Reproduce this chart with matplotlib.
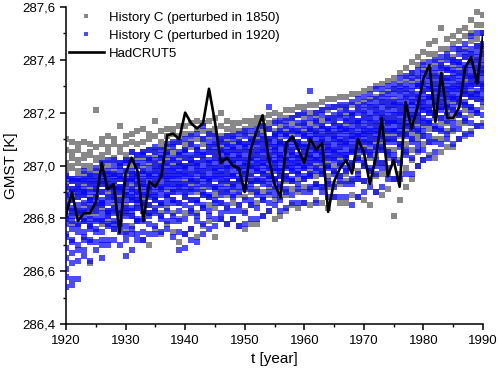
import matplotlib
matplotlib.use("Agg")
import matplotlib.pyplot as plt
from matplotlib.ticker import MultipleLocator, FuncFormatter

plt.rcParams['font.family'] = ['Liberation Sans', 'DejaVu Sans']

years = list(range(1920, 1991))

hadcrut5 = [286.81, 286.90, 286.79, 286.82, 286.82, 286.86, 287.01, 286.91, 286.93, 286.745,
            286.97, 287.03, 286.98, 286.79, 286.94, 286.92, 286.96, 287.115, 287.12, 287.10,
            287.20, 287.16, 287.14, 287.16, 287.29, 287.165, 287.01, 287.03, 287.00, 286.99,
            286.90, 287.06, 287.13, 287.19, 287.03, 286.93, 286.88, 287.085, 287.11, 287.06,
            287.01, 287.10, 287.06, 287.085, 286.825, 286.94, 286.99, 287.02, 286.97, 287.10,
            287.05, 286.93, 287.03, 287.18, 286.96, 287.02, 286.92, 287.24, 287.14, 287.22,
            287.33, 287.38, 287.165, 287.35, 287.18, 287.18, 287.22, 287.37, 287.41, 287.31,
            287.49]

# History C (perturbed in 1920): ensemble values per year
blue_members = [
    [286.54, 286.58, 286.61, 286.65, 286.69, 286.73, 286.74, 286.78, 286.80, 286.81, 286.85, 286.88, 286.89, 286.92, 286.95, 286.96],
    [286.55, 286.57, 286.63, 286.67, 286.71, 286.72, 286.76, 286.79, 286.81, 286.83, 286.84, 286.87, 286.90, 286.91, 286.94, 286.95],
    [286.57, 286.64, 286.68, 286.70, 286.75, 286.77, 286.78, 286.82, 286.83, 286.85, 286.88, 286.90, 286.91, 286.92, 286.94, 286.95],
    [286.66, 286.68, 286.72, 286.73, 286.75, 286.79, 286.80, 286.82, 286.83, 286.86, 286.89, 286.90, 286.91, 286.94, 286.95, 286.98],
    [286.64, 286.71, 286.72, 286.76, 286.77, 286.78, 286.80, 286.83, 286.85, 286.87, 286.87, 286.90, 286.93, 286.94, 286.96, 286.97],
    [286.68, 286.71, 286.75, 286.76, 286.79, 286.80, 286.83, 286.85, 286.86, 286.88, 286.90, 286.91, 286.93, 286.94, 286.96, 286.99],
    [286.65, 286.70, 286.72, 286.75, 286.79, 286.80, 286.82, 286.85, 286.86, 286.87, 286.90, 286.93, 286.94, 286.96, 286.97, 287.01],
    [286.70, 286.72, 286.77, 286.78, 286.81, 286.82, 286.83, 286.86, 286.88, 286.91, 286.92, 286.93, 286.95, 286.97, 286.98, 287.02],
    [286.72, 286.76, 286.78, 286.79, 286.82, 286.84, 286.87, 286.88, 286.89, 286.91, 286.92, 286.94, 286.96, 286.97, 287.00, 287.02],
    [286.70, 286.75, 286.77, 286.80, 286.82, 286.83, 286.85, 286.87, 286.90, 286.91, 286.92, 286.95, 286.96, 286.98, 287.00, 287.01],
    [286.66, 286.72, 286.74, 286.77, 286.81, 286.83, 286.84, 286.87, 286.89, 286.90, 286.92, 286.94, 286.95, 286.98, 287.01, 287.02],
    [286.68, 286.74, 286.76, 286.81, 286.83, 286.84, 286.87, 286.88, 286.90, 286.91, 286.94, 286.95, 286.97, 286.98, 287.02, 287.05],
    [286.72, 286.74, 286.79, 286.80, 286.84, 286.86, 286.87, 286.89, 286.90, 286.93, 286.94, 286.96, 286.97, 287.00, 287.01, 287.04],
    [286.72, 286.75, 286.79, 286.83, 286.85, 286.86, 286.89, 286.90, 286.92, 286.93, 286.95, 286.97, 286.98, 287.01, 287.04, 287.05],
    [286.74, 286.78, 286.81, 286.82, 286.85, 286.88, 286.89, 286.91, 286.92, 286.94, 286.96, 286.97, 286.99, 287.02, 287.03, 287.06],
    [286.74, 286.77, 286.82, 286.84, 286.87, 286.88, 286.90, 286.92, 286.93, 286.95, 286.97, 286.98, 287.00, 287.02, 287.05, 287.07],
    [286.75, 286.80, 286.81, 286.85, 286.86, 286.89, 286.91, 286.92, 286.94, 286.96, 286.97, 286.99, 287.00, 287.03, 287.04, 287.06],
    [286.76, 286.79, 286.83, 286.86, 286.88, 286.89, 286.92, 286.93, 286.95, 286.96, 286.98, 287.00, 287.01, 287.04, 287.05, 287.08],
    [286.73, 286.79, 286.81, 286.86, 286.87, 286.90, 286.91, 286.93, 286.95, 286.96, 286.98, 286.99, 287.02, 287.03, 287.07, 287.09],
    [286.68, 286.75, 286.79, 286.83, 286.86, 286.90, 286.92, 286.93, 286.95, 286.97, 286.98, 287.00, 287.01, 287.04, 287.05, 287.09],
    [286.69, 286.74, 286.80, 286.85, 286.88, 286.90, 286.92, 286.93, 286.96, 286.97, 286.99, 287.00, 287.03, 287.05, 287.06, 287.10],
    [286.72, 286.76, 286.82, 286.84, 286.87, 286.90, 286.91, 286.94, 286.95, 286.97, 286.99, 287.01, 287.02, 287.04, 287.08, 287.11],
    [286.71, 286.79, 286.81, 286.86, 286.87, 286.91, 286.93, 286.94, 286.97, 286.98, 287.00, 287.01, 287.04, 287.06, 287.07, 287.12],
    [286.74, 286.78, 286.84, 286.85, 286.89, 286.90, 286.93, 286.95, 286.96, 286.98, 287.00, 287.02, 287.04, 287.05, 287.10, 287.15],
    [286.76, 286.81, 286.83, 286.88, 286.89, 286.92, 286.94, 286.95, 286.97, 286.99, 287.01, 287.02, 287.05, 287.07, 287.09, 287.12],
    [286.77, 286.80, 286.86, 286.87, 286.91, 286.92, 286.95, 286.96, 286.98, 286.99, 287.01, 287.03, 287.05, 287.07, 287.09, 287.11],
    [286.80, 286.82, 286.86, 286.89, 286.91, 286.93, 286.95, 286.97, 286.98, 287.00, 287.02, 287.03, 287.05, 287.06, 287.09, 287.10],
    [286.78, 286.83, 286.85, 286.90, 286.91, 286.94, 286.95, 286.97, 286.99, 287.00, 287.02, 287.04, 287.05, 287.07, 287.08, 287.11],
    [286.80, 286.83, 286.88, 286.89, 286.92, 286.93, 286.96, 286.97, 286.99, 287.01, 287.02, 287.04, 287.06, 287.07, 287.10, 287.11],
    [286.77, 286.83, 286.85, 286.90, 286.92, 286.94, 286.95, 286.98, 286.99, 287.01, 287.03, 287.04, 287.06, 287.08, 287.09, 287.12],
    [286.78, 286.82, 286.87, 286.91, 286.92, 286.95, 286.97, 286.98, 287.00, 287.01, 287.03, 287.05, 287.07, 287.08, 287.11, 287.13],
    [286.80, 286.85, 286.87, 286.91, 286.93, 286.94, 286.97, 286.99, 287.00, 287.02, 287.03, 287.05, 287.07, 287.09, 287.10, 287.13],
    [286.80, 286.84, 286.89, 286.90, 286.94, 286.95, 286.98, 286.99, 287.01, 287.02, 287.04, 287.06, 287.08, 287.09, 287.12, 287.14],
    [286.81, 286.87, 286.88, 286.93, 286.94, 286.97, 286.98, 287.00, 287.01, 287.03, 287.05, 287.06, 287.08, 287.10, 287.11, 287.15],
    [286.83, 286.86, 286.90, 286.93, 286.95, 286.96, 286.99, 287.00, 287.02, 287.03, 287.05, 287.07, 287.09, 287.10, 287.14, 287.22],
    [286.85, 286.89, 286.91, 286.94, 286.95, 286.98, 286.99, 287.01, 287.02, 287.04, 287.06, 287.07, 287.09, 287.11, 287.12, 287.16],
    [286.83, 286.87, 286.92, 286.93, 286.96, 286.98, 286.99, 287.01, 287.03, 287.04, 287.06, 287.08, 287.09, 287.12, 287.13, 287.17],
    [286.84, 286.90, 286.91, 286.95, 286.96, 286.99, 287.00, 287.02, 287.03, 287.05, 287.07, 287.08, 287.11, 287.12, 287.15, 287.17],
    [286.86, 286.89, 286.94, 286.95, 286.98, 286.99, 287.01, 287.02, 287.04, 287.05, 287.07, 287.09, 287.10, 287.13, 287.14, 287.18],
    [286.86, 286.91, 286.93, 286.97, 286.98, 287.00, 287.01, 287.03, 287.04, 287.07, 287.08, 287.09, 287.12, 287.13, 287.16, 287.19],
    [286.86, 286.90, 286.95, 286.96, 286.99, 287.00, 287.02, 287.03, 287.05, 287.07, 287.08, 287.11, 287.12, 287.15, 287.16, 287.20],
    [286.90, 286.92, 286.96, 286.97, 287.00, 287.01, 287.03, 287.04, 287.06, 287.07, 287.10, 287.11, 287.13, 287.14, 287.18, 287.28],
    [286.86, 286.92, 286.93, 286.98, 286.99, 287.02, 287.03, 287.05, 287.06, 287.08, 287.10, 287.12, 287.13, 287.16, 287.17, 287.20],
    [286.90, 286.92, 286.97, 286.98, 287.01, 287.02, 287.04, 287.05, 287.07, 287.09, 287.10, 287.12, 287.14, 287.15, 287.19, 287.21],
    [286.88, 286.93, 286.94, 286.99, 287.00, 287.03, 287.04, 287.06, 287.07, 287.09, 287.11, 287.13, 287.14, 287.17, 287.18, 287.22],
    [286.88, 286.92, 286.97, 286.98, 287.02, 287.03, 287.05, 287.06, 287.08, 287.10, 287.11, 287.13, 287.15, 287.17, 287.19, 287.22],
    [286.88, 286.94, 286.96, 287.00, 287.01, 287.04, 287.05, 287.07, 287.09, 287.10, 287.12, 287.14, 287.15, 287.18, 287.20, 287.23],
    [286.88, 286.93, 286.98, 286.99, 287.03, 287.04, 287.06, 287.08, 287.09, 287.11, 287.13, 287.14, 287.17, 287.18, 287.21, 287.23],
    [286.85, 286.93, 286.95, 287.00, 287.01, 287.05, 287.06, 287.08, 287.10, 287.11, 287.13, 287.15, 287.17, 287.19, 287.20, 287.24],
    [286.88, 286.95, 286.97, 287.02, 287.03, 287.06, 287.07, 287.09, 287.11, 287.12, 287.14, 287.16, 287.17, 287.20, 287.22, 287.25],
    [286.90, 286.94, 287.00, 287.01, 287.05, 287.06, 287.09, 287.10, 287.12, 287.13, 287.15, 287.17, 287.19, 287.21, 287.23, 287.26],
    [286.92, 286.98, 286.99, 287.04, 287.05, 287.08, 287.09, 287.11, 287.13, 287.14, 287.16, 287.18, 287.20, 287.22, 287.24, 287.27],
    [286.90, 286.97, 287.00, 287.02, 287.06, 287.07, 287.10, 287.12, 287.13, 287.15, 287.17, 287.19, 287.21, 287.23, 287.25, 287.29],
    [286.92, 286.99, 287.01, 287.06, 287.07, 287.10, 287.11, 287.13, 287.15, 287.17, 287.18, 287.20, 287.22, 287.24, 287.26, 287.29],
    [286.95, 286.99, 287.04, 287.05, 287.09, 287.10, 287.13, 287.14, 287.16, 287.17, 287.19, 287.21, 287.23, 287.25, 287.27, 287.30],
    [286.95, 287.02, 287.04, 287.09, 287.10, 287.13, 287.14, 287.16, 287.17, 287.19, 287.21, 287.23, 287.24, 287.27, 287.29, 287.31],
    [286.95, 287.01, 287.07, 287.08, 287.12, 287.13, 287.15, 287.17, 287.19, 287.20, 287.22, 287.24, 287.26, 287.28, 287.30, 287.33],
    [286.97, 287.04, 287.06, 287.11, 287.12, 287.15, 287.16, 287.18, 287.20, 287.22, 287.23, 287.25, 287.27, 287.29, 287.31, 287.34],
    [286.97, 287.03, 287.09, 287.10, 287.14, 287.15, 287.18, 287.19, 287.21, 287.23, 287.24, 287.26, 287.28, 287.30, 287.33, 287.35],
    [287.00, 287.06, 287.08, 287.13, 287.14, 287.17, 287.19, 287.20, 287.22, 287.24, 287.26, 287.27, 287.30, 287.31, 287.34, 287.36],
    [287.02, 287.06, 287.11, 287.13, 287.16, 287.18, 287.21, 287.22, 287.24, 287.25, 287.27, 287.29, 287.31, 287.33, 287.35, 287.38],
    [287.03, 287.09, 287.11, 287.16, 287.17, 287.20, 287.21, 287.23, 287.25, 287.26, 287.29, 287.30, 287.32, 287.34, 287.36, 287.39],
    [287.05, 287.09, 287.14, 287.15, 287.19, 287.20, 287.23, 287.24, 287.26, 287.28, 287.29, 287.31, 287.33, 287.35, 287.37, 287.40],
    [287.08, 287.13, 287.14, 287.18, 287.21, 287.22, 287.24, 287.26, 287.27, 287.29, 287.31, 287.33, 287.34, 287.37, 287.38, 287.41],
    [287.10, 287.12, 287.17, 287.19, 287.22, 287.23, 287.25, 287.27, 287.29, 287.30, 287.32, 287.33, 287.36, 287.37, 287.40, 287.42],
    [287.08, 287.14, 287.16, 287.21, 287.22, 287.25, 287.26, 287.28, 287.29, 287.31, 287.33, 287.35, 287.36, 287.39, 287.40, 287.44],
    [287.10, 287.14, 287.19, 287.20, 287.24, 287.25, 287.27, 287.29, 287.30, 287.32, 287.34, 287.35, 287.38, 287.39, 287.42, 287.44],
    [287.12, 287.17, 287.18, 287.23, 287.24, 287.27, 287.28, 287.30, 287.31, 287.34, 287.35, 287.37, 287.38, 287.41, 287.43, 287.46],
    [287.12, 287.16, 287.21, 287.22, 287.26, 287.27, 287.30, 287.31, 287.33, 287.34, 287.36, 287.38, 287.40, 287.42, 287.44, 287.49],
    [287.15, 287.20, 287.21, 287.25, 287.27, 287.28, 287.31, 287.32, 287.34, 287.35, 287.37, 287.39, 287.41, 287.43, 287.45, 287.50],
    [287.15, 287.19, 287.24, 287.26, 287.28, 287.30, 287.31, 287.33, 287.35, 287.36, 287.38, 287.40, 287.42, 287.44, 287.46, 287.50],
]

# History C (perturbed in 1850): ensemble values per year
gray_members = [
    [286.80, 286.85, 286.86, 286.90, 286.92, 286.93, 286.96, 286.98, 287.00, 287.01, 287.06, 287.10],
    [286.78, 286.82, 286.87, 286.88, 286.91, 286.94, 286.95, 286.99, 287.00, 287.03, 287.05, 287.09],
    [286.81, 286.83, 286.88, 286.89, 286.93, 286.94, 286.97, 286.98, 287.01, 287.02, 287.06, 287.08],
    [286.79, 286.84, 286.85, 286.89, 286.90, 286.93, 286.96, 286.97, 287.00, 287.03, 287.04, 287.09],
    [286.63, 286.81, 286.84, 286.88, 286.91, 286.92, 286.95, 286.99, 287.00, 287.04, 287.05, 287.08],
    [286.82, 286.84, 286.88, 286.91, 286.92, 286.95, 286.97, 286.98, 287.02, 287.03, 287.07, 287.21],
    [286.78, 286.84, 286.86, 286.90, 286.93, 286.94, 286.98, 286.99, 287.02, 287.04, 287.08, 287.10],
    [286.80, 286.83, 286.88, 286.89, 286.93, 286.95, 286.96, 287.00, 287.01, 287.05, 287.07, 287.11],
    [286.76, 286.83, 286.85, 286.90, 286.91, 286.94, 286.97, 286.98, 287.02, 287.03, 287.08, 287.10],
    [286.78, 286.82, 286.87, 286.89, 286.92, 286.95, 286.96, 287.00, 287.01, 287.05, 287.07, 287.15],
    [286.75, 286.82, 286.85, 286.89, 286.93, 286.94, 286.97, 286.98, 287.02, 287.04, 287.08, 287.11],
    [286.77, 286.81, 286.87, 286.88, 286.92, 286.95, 286.96, 287.00, 287.01, 287.05, 287.09, 287.12],
    [286.79, 286.84, 286.87, 286.91, 286.92, 286.96, 286.97, 287.00, 287.03, 287.04, 287.08, 287.13],
    [286.72, 286.80, 286.86, 286.88, 286.93, 286.94, 286.98, 286.99, 287.03, 287.05, 287.09, 287.14],
    [286.70, 286.82, 286.85, 286.90, 286.92, 286.96, 286.97, 287.01, 287.02, 287.06, 287.10, 287.12],
    [286.76, 286.83, 286.87, 286.89, 286.94, 286.95, 286.99, 287.01, 287.04, 287.06, 287.11, 287.17],
    [286.74, 286.82, 286.86, 286.91, 286.92, 286.96, 286.98, 287.01, 287.03, 287.07, 287.09, 287.13],
    [286.78, 286.84, 286.89, 286.90, 286.94, 286.97, 286.98, 287.02, 287.05, 287.07, 287.11, 287.14],
    [286.75, 286.82, 286.87, 286.90, 286.93, 286.97, 287.00, 287.01, 287.05, 287.08, 287.12, 287.14],
    [286.71, 286.80, 286.86, 286.91, 286.93, 286.96, 287.00, 287.02, 287.04, 287.09, 287.11, 287.15],
    [286.74, 286.82, 286.88, 286.90, 286.94, 286.98, 287.00, 287.03, 287.06, 287.08, 287.12, 287.15],
    [286.76, 286.83, 286.87, 286.92, 286.94, 286.97, 287.01, 287.03, 287.07, 287.09, 287.12, 287.16],
    [286.73, 286.82, 286.87, 286.90, 286.95, 286.99, 287.01, 287.04, 287.06, 287.10, 287.14, 287.17],
    [286.77, 286.84, 286.89, 286.92, 286.96, 286.98, 287.02, 287.04, 287.08, 287.10, 287.13, 287.16],
    [286.79, 286.85, 286.88, 286.93, 286.95, 286.99, 287.01, 287.05, 287.07, 287.11, 287.13, 287.17],
    [286.73, 286.84, 286.89, 286.92, 286.97, 286.99, 287.03, 287.05, 287.08, 287.12, 287.14, 287.18],
    [286.80, 286.86, 286.90, 286.94, 286.96, 287.00, 287.02, 287.06, 287.08, 287.11, 287.15, 287.20],
    [286.78, 286.84, 286.89, 286.93, 286.97, 286.99, 287.03, 287.05, 287.09, 287.11, 287.14, 287.17],
    [286.80, 286.86, 286.91, 286.93, 286.96, 287.00, 287.02, 287.06, 287.08, 287.12, 287.14, 287.16],
    [286.77, 286.85, 286.89, 286.94, 286.96, 286.99, 287.03, 287.05, 287.09, 287.10, 287.13, 287.16],
    [286.76, 286.83, 286.88, 286.92, 286.97, 287.00, 287.02, 287.06, 287.08, 287.12, 287.14, 287.17],
    [286.78, 286.85, 286.90, 286.94, 286.96, 287.00, 287.03, 287.05, 287.09, 287.11, 287.15, 287.17],
    [286.78, 286.86, 286.91, 286.94, 286.98, 287.00, 287.04, 287.06, 287.10, 287.12, 287.16, 287.18],
    [286.81, 286.87, 286.90, 286.95, 286.97, 287.01, 287.03, 287.07, 287.09, 287.13, 287.15, 287.18],
    [286.83, 286.89, 286.92, 286.96, 286.98, 287.02, 287.04, 287.08, 287.10, 287.14, 287.16, 287.19],
    [286.80, 286.87, 286.92, 286.95, 286.99, 287.01, 287.05, 287.07, 287.11, 287.13, 287.17, 287.20],
    [286.81, 286.88, 286.91, 286.96, 286.98, 287.02, 287.04, 287.08, 287.10, 287.14, 287.16, 287.19],
    [286.83, 286.89, 286.94, 286.96, 287.00, 287.02, 287.06, 287.08, 287.12, 287.14, 287.18, 287.21],
    [286.85, 286.91, 286.94, 286.98, 287.00, 287.04, 287.06, 287.10, 287.12, 287.16, 287.18, 287.21],
    [286.84, 286.90, 286.95, 286.97, 287.01, 287.03, 287.07, 287.09, 287.13, 287.15, 287.19, 287.22],
    [286.86, 286.92, 286.95, 286.99, 287.01, 287.05, 287.07, 287.11, 287.13, 287.17, 287.19, 287.22],
    [286.85, 286.91, 286.96, 286.98, 287.02, 287.04, 287.08, 287.10, 287.14, 287.16, 287.20, 287.23],
    [286.87, 286.93, 286.96, 287.00, 287.02, 287.06, 287.08, 287.12, 287.14, 287.18, 287.20, 287.23],
    [286.86, 286.92, 286.97, 286.99, 287.03, 287.05, 287.09, 287.11, 287.15, 287.17, 287.21, 287.24],
    [286.84, 286.92, 286.96, 287.00, 287.02, 287.06, 287.08, 287.12, 287.14, 287.18, 287.21, 287.25],
    [286.88, 286.93, 286.98, 287.00, 287.04, 287.06, 287.10, 287.12, 287.16, 287.18, 287.22, 287.25],
    [286.86, 286.93, 286.96, 287.01, 287.03, 287.07, 287.09, 287.13, 287.15, 287.19, 287.22, 287.26],
    [286.86, 286.94, 286.97, 287.02, 287.04, 287.08, 287.10, 287.14, 287.16, 287.20, 287.22, 287.26],
    [286.89, 286.94, 286.99, 287.01, 287.05, 287.07, 287.11, 287.13, 287.17, 287.19, 287.23, 287.27],
    [286.88, 286.95, 286.98, 287.03, 287.05, 287.09, 287.11, 287.15, 287.17, 287.21, 287.23, 287.27],
    [286.87, 286.94, 287.00, 287.02, 287.06, 287.08, 287.12, 287.14, 287.18, 287.20, 287.24, 287.28],
    [286.85, 286.94, 286.98, 287.03, 287.06, 287.10, 287.12, 287.16, 287.18, 287.22, 287.25, 287.29],
    [286.90, 286.96, 287.01, 287.04, 287.08, 287.10, 287.14, 287.16, 287.20, 287.22, 287.26, 287.30],
    [286.89, 286.97, 287.01, 287.06, 287.08, 287.12, 287.14, 287.18, 287.20, 287.24, 287.27, 287.31],
    [286.91, 286.97, 287.03, 287.06, 287.10, 287.12, 287.16, 287.18, 287.22, 287.24, 287.28, 287.32],
    [286.81, 286.95, 287.02, 287.06, 287.11, 287.13, 287.17, 287.19, 287.23, 287.25, 287.29, 287.33],
    [286.87, 286.97, 287.02, 287.08, 287.11, 287.15, 287.17, 287.21, 287.23, 287.28, 287.31, 287.35],
    [286.92, 286.99, 287.05, 287.08, 287.13, 287.15, 287.19, 287.21, 287.26, 287.29, 287.33, 287.37],
    [286.95, 287.02, 287.06, 287.11, 287.13, 287.17, 287.19, 287.24, 287.27, 287.32, 287.35, 287.39],
    [287.00, 287.05, 287.10, 287.12, 287.16, 287.18, 287.22, 287.25, 287.30, 287.33, 287.38, 287.41],
    [287.02, 287.08, 287.11, 287.15, 287.17, 287.21, 287.23, 287.28, 287.31, 287.36, 287.39, 287.43],
    [287.04, 287.09, 287.14, 287.16, 287.20, 287.22, 287.26, 287.29, 287.34, 287.37, 287.42, 287.46],
    [287.03, 287.10, 287.14, 287.18, 287.20, 287.24, 287.26, 287.31, 287.34, 287.39, 287.42, 287.47],
    [287.05, 287.10, 287.16, 287.18, 287.22, 287.24, 287.28, 287.31, 287.36, 287.39, 287.44, 287.52],
    [287.07, 287.13, 287.16, 287.20, 287.22, 287.26, 287.28, 287.33, 287.36, 287.41, 287.44, 287.48],
    [287.07, 287.13, 287.18, 287.20, 287.24, 287.26, 287.30, 287.33, 287.38, 287.41, 287.46, 287.49],
    [287.10, 287.16, 287.19, 287.23, 287.25, 287.29, 287.31, 287.36, 287.39, 287.44, 287.47, 287.51],
    [287.11, 287.16, 287.21, 287.23, 287.27, 287.29, 287.33, 287.36, 287.41, 287.44, 287.49, 287.52],
    [287.13, 287.19, 287.22, 287.26, 287.28, 287.32, 287.34, 287.39, 287.42, 287.47, 287.50, 287.55],
    [287.15, 287.20, 287.25, 287.27, 287.31, 287.33, 287.37, 287.40, 287.45, 287.48, 287.53, 287.58],
    [287.16, 287.22, 287.25, 287.29, 287.31, 287.35, 287.37, 287.42, 287.45, 287.50, 287.53, 287.57],
]

label_gray = "History C (perturbed in 1850)"
label_blue = "History C (perturbed in 1920)"
label_line = "HadCRUT5"

gx = [yr for yr, row in zip(years, gray_members) for _ in row]
gy = [v for row in gray_members for v in row]
bx = [yr for yr, row in zip(years, blue_members) for _ in row]
by = [v for row in blue_members for v in row]

fig = plt.figure(figsize=(4.98, 3.75), dpi=100)
ax = fig.add_axes([0.1325, 0.135, 0.8375, 0.847])

ax.plot(gx, gy, linestyle='none', marker='s', markersize=4.3, markeredgewidth=0,
        color='#888888', label=label_gray, zorder=2)
ax.plot(bx, by, linestyle='none', marker='s', markersize=4.3, markeredgewidth=0,
        color='#0000ff', alpha=0.7, label=label_blue, zorder=3)
ax.plot(years, hadcrut5, color='black', linewidth=1.9, label=label_line, zorder=4)

ax.set_xlim(1920, 1990)
ax.set_ylim(286.4, 287.6)
ax.xaxis.set_major_locator(MultipleLocator(10))
ax.xaxis.set_minor_locator(MultipleLocator(5))
ax.yaxis.set_major_locator(MultipleLocator(0.2))
ax.yaxis.set_minor_locator(MultipleLocator(0.1))
ax.yaxis.set_major_formatter(FuncFormatter(lambda v, p: f"{v:.1f}".replace('.', ',')))

for s in ['top', 'right']:
    ax.spines[s].set_visible(False)
for s in ['left', 'bottom']:
    ax.spines[s].set_linewidth(1.1)
ax.tick_params(which='major', direction='out', length=4.5, width=1.1, labelsize=9.5, pad=3)
ax.tick_params(which='minor', direction='out', length=2.5, width=1.0)

ax.set_xlabel("t [year]", fontsize=11, labelpad=4)
ax.set_ylabel("GMST [K]", fontsize=11, labelpad=3)

leg = ax.legend(loc='upper left', bbox_to_anchor=(0.008, 0.985), borderaxespad=0, borderpad=0,
                frameon=False, fontsize=9.5, handlelength=2.6, handletextpad=0.4,
                labelspacing=0.45, markerscale=0.8)

fig.savefig("out.png", dpi=100)
